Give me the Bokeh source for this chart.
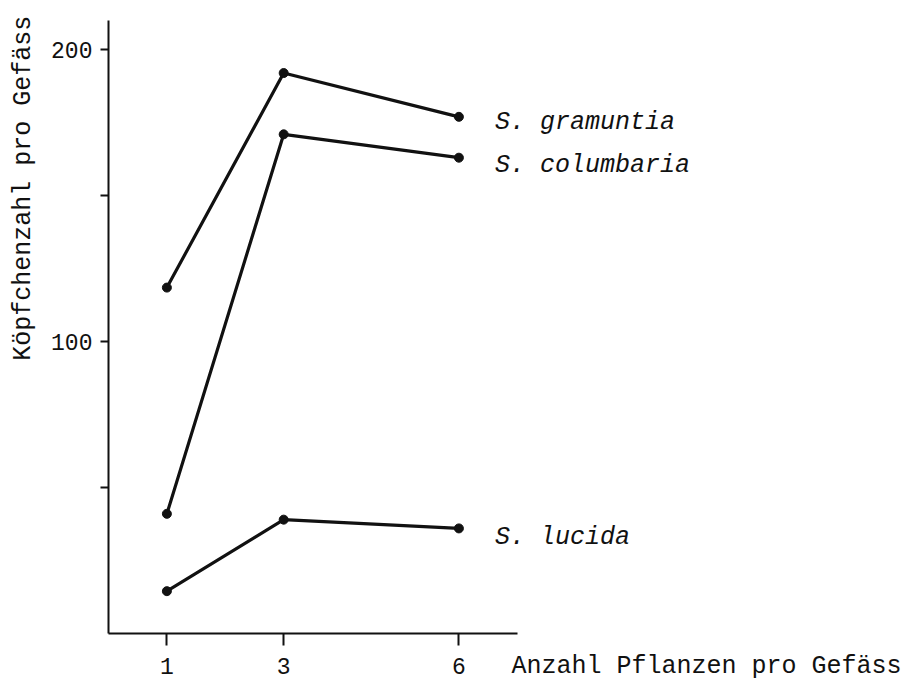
import math
from bokeh.plotting import figure
from bokeh.models import Label, FixedTicker, Range1d
from bokeh.core.properties import value
from bokeh.embed import file_html
from bokeh.resources import INLINE

# ---- data ----
plants = [1, 3, 6]
gramuntia = [118.5, 192, 177]
columbaria = [41, 171, 163]
lucida = [14.5, 39, 36]
species = ["S. gramuntia", "S. columbaria", "S. lucida"]
x_ticks = [1, 3, 6]
y_ticks = [50, 100, 150, 200]
y_tick_text = {50: "", 100: "100", 150: "", 200: "200"}
x_title = "Anzahl Pflanzen pro Gefäss"
y_title = "Köpfchenzahl pro Gefäss"

FONT = "Liberation Mono"
INK = "#111111"

# axis extents (data units) and the canvas around them
X_AXIS = (0, 7)
Y_AXIS = (0, 210)

p = figure(width=911, height=683,
           x_range=Range1d(-1.849, 13.75), y_range=Range1d(-17.13, 216.85),
           output_backend="svg", toolbar_location=None,
           min_border_left=0, min_border_right=0,
           min_border_top=0, min_border_bottom=0)

p.outline_line_color = None
p.xgrid.visible = False
p.ygrid.visible = False
p.background_fill_color = "white"
p.border_fill_color = "white"

for ax in (p.xaxis[0], p.yaxis[0]):
    ax.fixed_location = 0
    ax.axis_line_color = INK
    ax.axis_line_width = 2
    ax.major_tick_line_color = INK
    ax.major_tick_line_width = 2
    ax.minor_tick_line_color = None
    ax.major_tick_in = 0
    ax.major_label_text_font = FONT
    ax.major_label_text_color = INK
    ax.major_label_text_font_size = "23px"

p.xaxis.bounds = X_AXIS
p.xaxis.ticker = FixedTicker(ticks=x_ticks)
p.xaxis.major_tick_out = 12
p.xaxis.major_label_standoff = 13

p.yaxis.bounds = Y_AXIS
p.yaxis.ticker = FixedTicker(ticks=y_ticks)
p.yaxis.major_label_overrides = {k: v for k, v in y_tick_text.items()}
p.yaxis.major_tick_out = 8
p.yaxis.major_label_standoff = 8

series = [gramuntia, columbaria, lucida]
dy = [6, 8, 9]  # label offsets (px) from the last point
for vals, name, off in zip(series, species, dy):
    p.line(plants, vals, line_color=INK, line_width=3.2)
    p.scatter(plants, vals, size=9, fill_color=INK, line_color=INK)
    p.text(x=[plants[-1]], y=[vals[-1]], text=[name],
           x_offset=36, y_offset=off,
           text_font=value(FONT), text_font_style="italic",
           text_font_size="25px", text_color=INK,
           text_align="left", text_baseline="middle")

p.add_layout(Label(x=6.9, y=-11.4, text=x_title,
                   text_font=FONT, text_font_size="25px", text_color=INK,
                   text_align="left", text_baseline="middle"))
p.add_layout(Label(x=-1.45, y=152.5, text=y_title, angle=math.pi / 2,
                   text_font=FONT, text_font_size="25px", text_color=INK,
                   text_align="center", text_baseline="middle"))

open("out.html", "w").write(file_html(p, INLINE))
